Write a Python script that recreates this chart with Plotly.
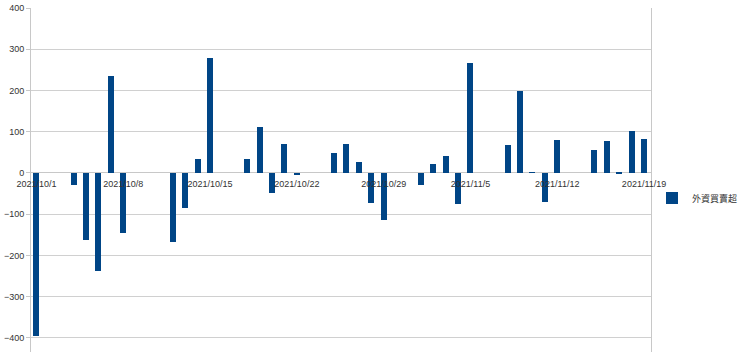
import plotly.graph_objects as go
import pandas as pd

dates = ["2021-10-01", "2021-10-04", "2021-10-05", "2021-10-06", "2021-10-07", "2021-10-08",
         "2021-10-12", "2021-10-13", "2021-10-14", "2021-10-15",
         "2021-10-18", "2021-10-19", "2021-10-20", "2021-10-21", "2021-10-22",
         "2021-10-25", "2021-10-26", "2021-10-27", "2021-10-28", "2021-10-29",
         "2021-11-01", "2021-11-02", "2021-11-03", "2021-11-04", "2021-11-05",
         "2021-11-08", "2021-11-09", "2021-11-10", "2021-11-11", "2021-11-12",
         "2021-11-15", "2021-11-16", "2021-11-17", "2021-11-18", "2021-11-19"]
values = [-395, -30, -163, -238, 236, -145,
          -167, -84, 35, 280,
          33, 112, -48, 70, -6,
          48, 70, 26, -72, -114,
          -30, 21, 41, -74, 267,
          69, 198, 1, -70, 81,
          55, 78, -3, 103, 82]
series_name = "外資買賣超"
tick_dates = ["2021-10-01", "2021-10-08", "2021-10-15", "2021-10-22",
              "2021-10-29", "2021-11-05", "2021-11-12", "2021-11-19"]
tick_labels = ["2021/10/1", "2021/10/8", "2021/10/15", "2021/10/22",
               "2021/10/29", "2021/11/5", "2021/11/12", "2021/11/19"]
y_ticks = [-400, -300, -200, -100, 0, 100, 200, 300, 400]

DAY_MS = 86400000
x0 = pd.Timestamp("2021-10-01") - pd.Timedelta(days=0.44)
x1 = pd.Timestamp("2021-11-19") + pd.Timedelta(days=0.56)

fig = go.Figure()
fig.add_trace(go.Bar(
    x=dates, y=values, name=series_name,
    marker=dict(color="#004586", line=dict(width=0)),
    width=0.48 * DAY_MS,
    showlegend=True,
))

W, H = 740, 352
ml, mr, mt, mb = 31, 89, 8, 0
zero_pos = (H - 173 - mb) / (H - mt - mb)

fig.update_layout(
    width=W, height=H,
    margin=dict(l=ml, r=mr, t=mt, b=mb, autoexpand=False),
    paper_bgcolor="white", plot_bgcolor="white",
    font=dict(family="Liberation Sans, Arial, sans-serif", size=9, color="#333333"),
    showlegend=True,
    legend=dict(
        x=(652 - ml) / (W - ml - mr), xanchor="left",
        y=(H - 198 - mb) / (H - mt - mb), yanchor="middle",
        font=dict(family="Noto Sans CJK TC, sans-serif", size=9, color="#333333"),
        bgcolor="rgba(0,0,0,0)", itemwidth=30,
    ),
    xaxis=dict(
        type="date",
        range=[x0, x1],
        anchor="free", position=zero_pos,
        tickmode="array", tickvals=tick_dates, ticktext=tick_labels,
        showgrid=False, showline=False, zeroline=False,
        ticks="", tickangle=0, ticklabelstandoff=4,
        tickfont=dict(size=9, color="#333333"),
    ),
    yaxis=dict(
        range=[-434, 400],
        tickmode="array", tickvals=y_ticks,
        showgrid=True, gridcolor="#d0d0d0", gridwidth=1,
        zeroline=True, zerolinecolor="#c8c8c8", zerolinewidth=1,
        showline=True, mirror=True, linecolor="#c8c8c8", linewidth=1,
        ticks="outside", ticklen=4, tickcolor="#c8c8c8",
        tickfont=dict(size=9, color="#333333"),
    ),
    bargap=0,
)

fig.write_html("out.html")
